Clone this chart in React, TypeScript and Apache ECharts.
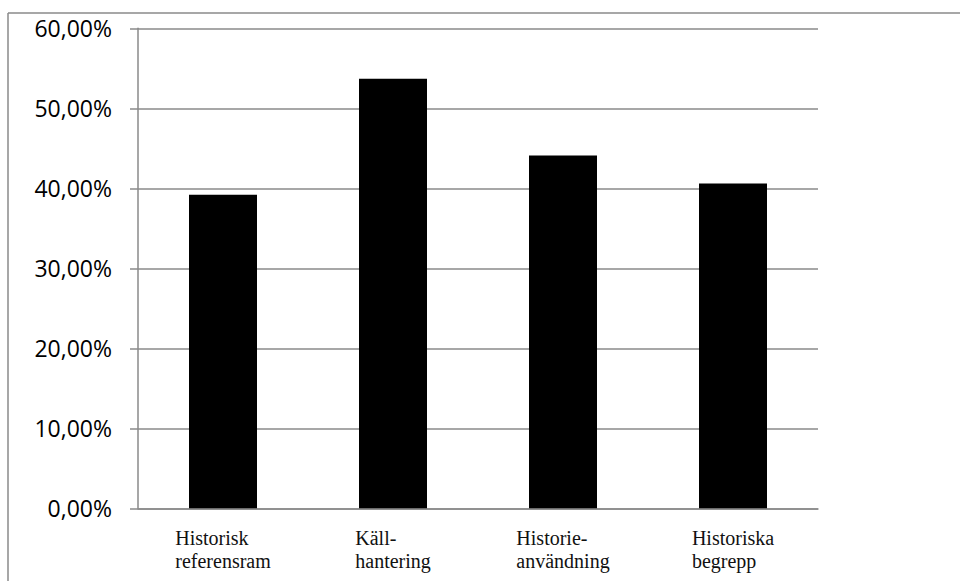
import React, { useEffect, useRef } from "react";
import * as echarts from "echarts";

const categories = ["Historisk\nreferensram", "Käll-\nhantering", "Historie-\nanvändning", "Historiska\nbegrepp"];
const values = [39.2, 53.7, 44.1, 40.6];
const yTicks = { min: 0, max: 60, interval: 10 };

const GREY = "#8a8a8a";

export default function App() {
  const ref = useRef<HTMLDivElement>(null);
  useEffect(() => {
    if (!ref.current) return;
    const chart = echarts.init(ref.current, null, { renderer: "svg" });
    chart.setOption({
      animation: false,
      backgroundColor: "#ffffff",
      grid: { left: 138, top: 28.3, right: 142, bottom: 72.7, containLabel: false },
      xAxis: {
        type: "category",
        data: categories,
        axisLine: { show: true, lineStyle: { color: GREY, width: 1.5 } },
        axisTick: { show: false },
        axisLabel: {
          margin: 18,
          align: "center",
          formatter: (v: string) => v.split("\n").map((l) => `{a|${l}}`).join("\n"),
          rich: {
            a: {
              align: "left",
              fontFamily: "Liberation Serif",
              fontSize: 20,
              lineHeight: 23,
              color: "#111",
            },
          },
        },
      },
      yAxis: {
        type: "value",
        min: yTicks.min,
        max: yTicks.max,
        interval: yTicks.interval,
        axisLine: { show: true, lineStyle: { color: GREY, width: 1.5 } },
        axisTick: { show: true, length: 8, lineStyle: { color: GREY, width: 1.5 } },
        splitLine: { show: true, lineStyle: { color: GREY, width: 1.5 } },
        axisLabel: {
          margin: 26,
          color: "#000",
          fontFamily: "Open Sans",
          fontSize: 23,
          formatter: (v: number) => v.toFixed(2).replace(".", ",") + "%",
        },
      },
      series: [
        {
          type: "bar",
          data: values,
          barWidth: "40%",
          itemStyle: { color: "#000" },
        },
      ],
      graphic: [
        { type: "line", shape: { x1: 8, y1: 13, x2: 960, y2: 13 }, style: { stroke: GREY, lineWidth: 1.5 } },
        { type: "line", shape: { x1: 8, y1: 13, x2: 8, y2: 581 }, style: { stroke: GREY, lineWidth: 1.5 } },
      ],
    });
    return () => chart.dispose();
  }, []);
  return (
    <div
      ref={ref}
      style={{ position: "fixed", left: 0, top: 0, width: 960, height: 581 }}
    />
  );
}
